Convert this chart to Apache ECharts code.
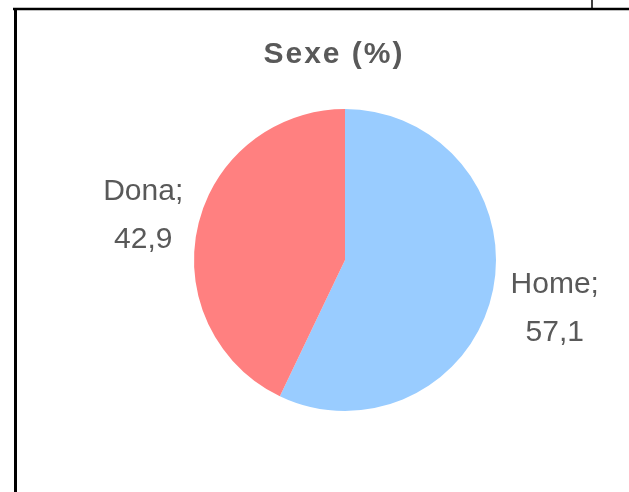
<!DOCTYPE html>
<html>
<head>
<meta charset="utf-8">
<script src="https://cdn.jsdelivr.net/npm/echarts@6/dist/echarts.min.js"></script>
<style>
html,body{margin:0;padding:0;background:#fff;}
#chart{width:629px;height:492px;}
</style>
</head>
<body>
<div id="chart"></div>
<script>
const categories = ['Home', 'Dona'];
const values = [57.1, 42.9];
const colors = ['#99CCFF', '#FF8080'];
const titleText = 'Sexe (%)';

const CX = 345, CY = 260, R = 151, LABEL_DIST = 211;
const total = values.reduce((a, b) => a + b, 0);

const spaced = s => s.split('').map(ch => '{c|' + ch + '}').join('');

const chart = echarts.init(document.getElementById('chart'), null, {renderer: 'canvas'});
chart.setOption({
  animation: false,
  backgroundColor: '#ffffff',
  title: {
    text: spaced(titleText),
    left: 328, top: 50,
    textAlign: 'center', textVerticalAlign: 'middle',
    textStyle: {
      fontFamily: 'Liberation Sans', fontWeight: 'bold', fontSize: 30, color: '#595959',
      rich: {c: {fontFamily: 'Liberation Sans', fontWeight: 'bold', fontSize: 30, color: '#595959', padding: [0, 1.0]}}
    }
  },
  graphic: [
    {type: 'line', shape: {x1: 13, y1: 9, x2: 629, y2: 9}, style: {stroke: '#000', lineWidth: 2.5}},
    {type: 'line', shape: {x1: 15.5, y1: 8, x2: 15.5, y2: 492}, style: {stroke: '#000', lineWidth: 3}},
    {type: 'line', shape: {x1: 592, y1: 0, x2: 592, y2: 9}, style: {stroke: '#000', lineWidth: 1.5}}
  ],
  series: [{
    type: 'pie',
    center: [CX, CY],
    radius: [0, R],
    startAngle: 90,
    clockwise: true,
    silent: true,
    itemStyle: {borderWidth: 0},
    label: {
      show: true,
      position: 'outside',
      overflow: 'none',
      formatter: p => p.name + ';\n' + p.value.toFixed(1).replace('.', ','),
      fontFamily: 'Liberation Sans',
      fontSize: 30,
      lineHeight: 48,
      color: '#595959',
      align: 'center'
    },
    labelLine: {show: false},
    labelLayout: function (params) {
      let cum = 0;
      for (let i = 0; i < params.dataIndex; i++) cum += values[i];
      const mid = (cum + values[params.dataIndex] / 2) / total * 2 * Math.PI;
      return {
        x: CX + 4 + LABEL_DIST * Math.sin(mid),
        y: CY + 2 - LABEL_DIST * Math.cos(mid),
        align: 'center',
        verticalAlign: 'middle'
      };
    },
    data: categories.map((c, i) => ({name: c, value: values[i], itemStyle: {color: colors[i]}}))
  }]
});
</script>
</body>
</html>
